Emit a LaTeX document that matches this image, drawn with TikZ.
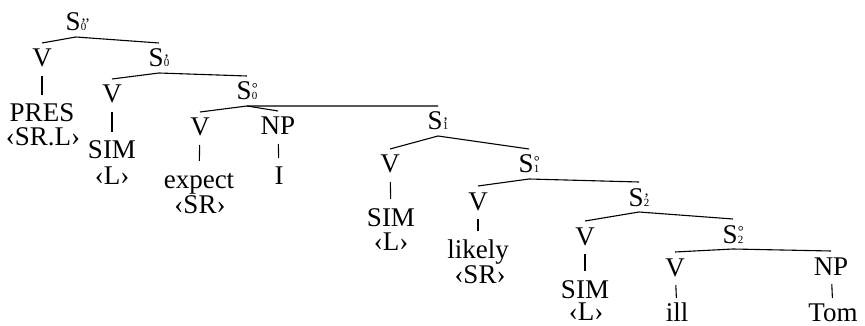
\documentclass[tikz,border=0pt]{standalone}
\usepackage{fontspec}
\setmainfont{Liberation Serif}
\newcommand\Slab[2]{S\rlap{#1}{\fontsize{11}{11}\selectfont #2}}
\newcommand\pr{\raisebox{1.5pt}{\fontsize{16}{16}\selectfont ’}}
\newcommand\ppr{\raisebox{1.5pt}{\fontsize{16}{16}\selectfont ’’}}
\newcommand\dg{\raisebox{6pt}{\fontsize{15}{15}\selectfont °}}
\begin{document}
\begin{tikzpicture}[x=1pt,y=-1pt,
  tn/.style={font=\fontsize{27}{30}\selectfont, text height=18pt, text depth=0pt,
    inner sep=0pt, outer xsep=0pt, outer ysep=6pt, anchor=base},
  tnb/.style={tn, outer ysep=0pt},
  br/.style={line width=1.1pt},
  vl/.style={line width=1.1pt, shorten <=3pt, shorten >=3pt},
  vlb/.style={line width=1.1pt, shorten <=3pt, shorten >=5pt}]
\useasboundingbox (0,0) rectangle (865,326);
% nodes
\node[tn] (s0pp) at (76,31) {\Slab{\ppr}{0}};
\node[tn] (v1) at (42,67) {V};
\node[tn] (pres) at (42,122) {PRES};
\node[tn] (srl) at (43,146) {‹SR.L›};
\node[tn] (s0p) at (159,67) {\Slab{\pr}{0}};
\node[tn] (v2) at (112,103) {V};
\node[tn] (sim1) at (112,159) {SIM};
\node[tn] (l1) at (112,185) {‹L›};
\node[tn] (s0o) at (247,100) {\Slab{\dg}{0}};
\node[tn] (v3) at (200,136) {V};
\node[tn] (expect) at (199,188) {expect};
\node[tn] (sr1) at (200,213) {‹SR›};
\node[tn] (np1) at (278,135) {NP};
\node[tn] (i) at (279,185) {I};
\node[tn] (s1p) at (438,130) {\Slab{\pr}{1}};
\node[tn] (v4) at (390,173) {V};
\node[tn] (sim2) at (391,226) {SIM};
\node[tn] (l2) at (391,250) {‹L›};
\node[tn] (s1o) at (529,173) {\Slab{\dg}{1}};
\node[tn] (v5) at (478,210) {V};
\node[tn] (likely) at (478,258) {likely};
\node[tn] (sr2) at (480,283) {‹SR›};
\node[tn] (s2p) at (639,206) {\Slab{\pr}{2}};
\node[tn] (v6) at (585,245) {V};
\node[tn] (sim3) at (585,298) {SIM};
\node[tnb] (l3) at (586,320) {‹L›};
\node[tn] (s2o) at (733,243) {\Slab{\dg}{2}};
\node[tn] (v7) at (675,276) {V};
\node[tnb] (ill) at (677,321) {ill};
\node[tn] (np2) at (831,275) {NP};
\node[tnb] (tom) at (833,321) {Tom};
% branches
\draw[br] (v1.north) -- (s0pp.south) -- (s0p.north);
\draw[br] (v2.north) -- (s0p.south) -- (s0o.north);
\draw[br] (v3.north) -- (s0o.south) -- (s1p.north);
\draw[br] (s0o.south) -- (np1.north);
\draw[br] (v4.north) -- (s1p.south) -- (s1o.north);
\draw[br] (v5.north) -- (s1o.south) -- (s2p.north);
\draw[br] (v6.north) -- (s2p.south) -- (s2o.north);
\draw[br] (v7.north) -- (s2o.south) -- (np2.north);
% vertical lines
\draw[vl] (v1) -- (pres);
\draw[vl] (v2) -- (sim1);
\draw[vl] (v3) -- (expect);
\draw[vl] (np1) -- (i);
\draw[vl] (v4) -- (sim2);
\draw[vl] (v5) -- (likely);
\draw[vl] (v6) -- (sim3);
\draw[vlb] (v7) -- (ill);
\draw[vlb] (np2) -- (tom);
\end{tikzpicture}
\end{document}
